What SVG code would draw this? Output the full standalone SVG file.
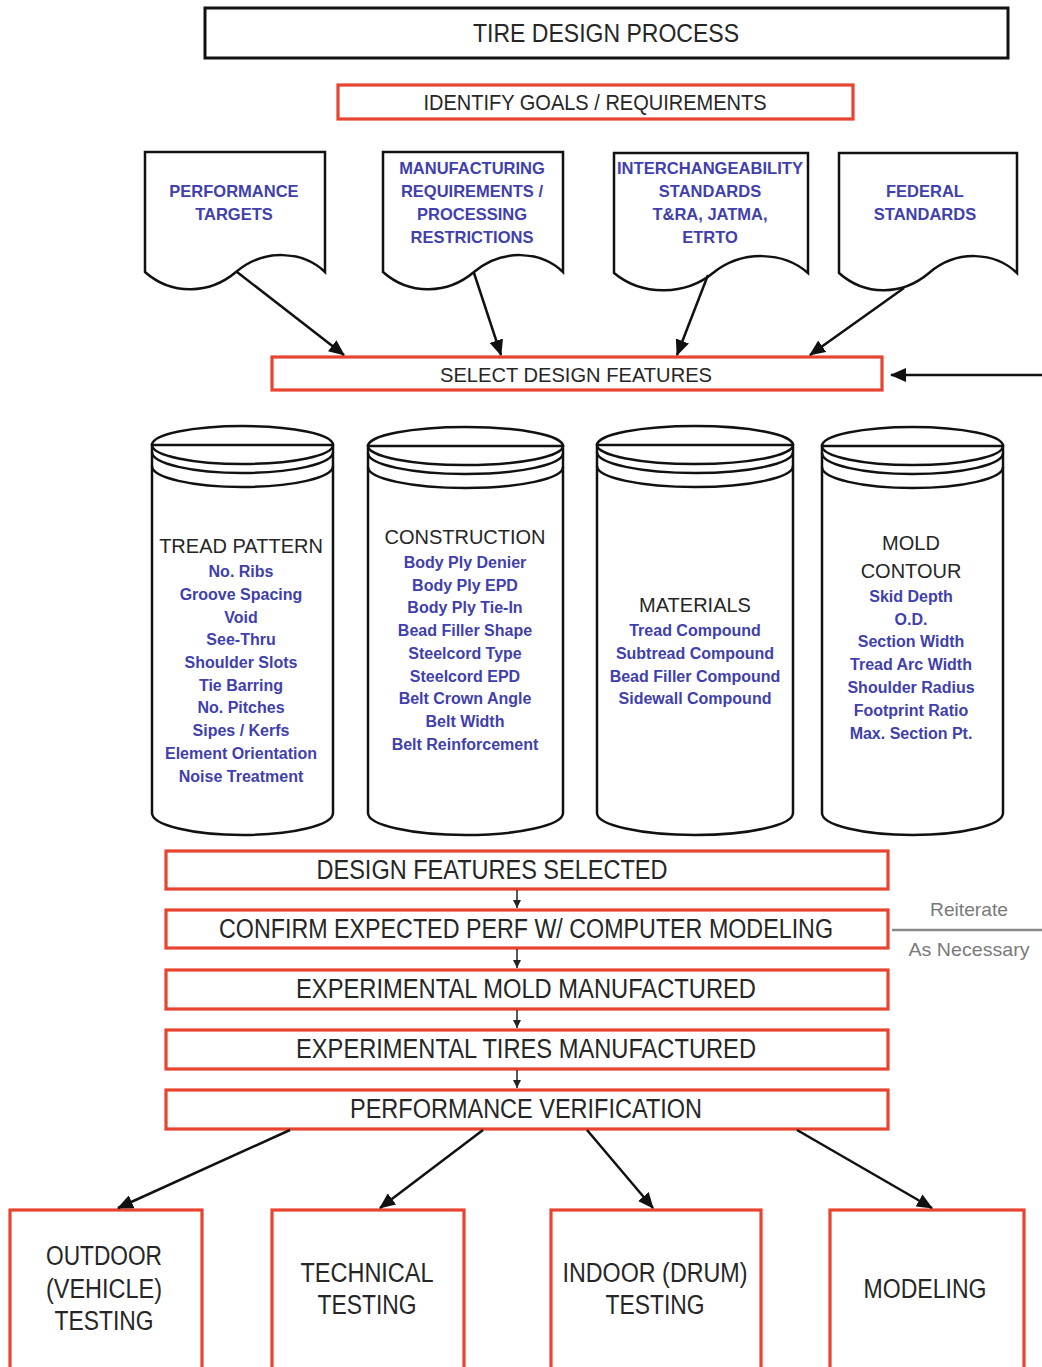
<svg xmlns="http://www.w3.org/2000/svg" width="1042" height="1367" viewBox="0 0 1042 1367">
  <defs>
    <marker id="arrow" viewBox="0 0 16 14" refX="15" refY="7" markerWidth="16" markerHeight="14" markerUnits="userSpaceOnUse" orient="auto">
      <path d="M0,0 L16,7 L0,14 Z" fill="#111"/>
    </marker>
    <marker id="arrowSmall" viewBox="0 0 8 8" refX="8" refY="4" markerWidth="8" markerHeight="8" markerUnits="userSpaceOnUse" orient="auto">
      <path d="M0,0 L8,4 L0,8 Z" fill="#222"/>
    </marker>
  </defs>
  <style>
    text { font-family: "Liberation Sans", Arial, sans-serif; text-anchor: middle; dominant-baseline: central; }
    .dark { fill: #262626; }
    .blue { fill: #3f3fae; font-weight: bold; }
    .doc { font-size: 16.5px; }
    .item { font-size: 16px; }
    .cylhead { font-size: 20px; }
    .step { font-size: 27px; }
    .note { fill: #7a7a7a; font-size: 19px; }
    .blackbox { fill: none; stroke: #111; stroke-width: 3; }
    .redbox { fill: #fff; stroke: #e8432f; stroke-width: 3.2; }
    .shape { fill: #fff; stroke: #111; stroke-width: 2.5; }
    .ring { fill: none; stroke: #111; stroke-width: 2.5; }
    .conn { fill: none; stroke: #111; stroke-width: 2.5; }
    .thin { fill: none; stroke: #222; stroke-width: 1.5; }
  </style>

  <rect x="0" y="0" width="1042" height="1367" fill="#fff"/>

  <!-- title -->
  <g id="title">
    <rect class="blackbox" x="205" y="8" width="803" height="50"/>
    <text class="dark" x="606" y="33" font-size="26" textLength="266" lengthAdjust="spacingAndGlyphs">TIRE DESIGN PROCESS</text>
  </g>

  <g id="identify">
    <rect class="redbox" x="338" y="85" width="515" height="34"/>
    <text class="dark" x="595" y="102" font-size="22" textLength="343" lengthAdjust="spacingAndGlyphs">IDENTIFY GOALS / REQUIREMENTS</text>
  </g>

  <!-- requirement documents -->
  <g id="doc-performance">
    <path class="shape" d="M145,152 H325 V272 C303,251 264,248 236,272 C210,294 172,296 145,272 Z"/>
    <text class="blue doc" x="234" y="191">PERFORMANCE</text>
    <text class="blue doc" x="234" y="214">TARGETS</text>
  </g>
  <g id="doc-manufacturing">
    <path class="shape" d="M383,152 H563 V272 C541,251 502,248 474,272 C448,294 410,296 383,272 Z"/>
    <text class="blue doc" x="472" y="168">MANUFACTURING</text>
    <text class="blue doc" x="472" y="191">REQUIREMENTS /</text>
    <text class="blue doc" x="472" y="214">PROCESSING</text>
    <text class="blue doc" x="472" y="237">RESTRICTIONS</text>
  </g>
  <g id="doc-interchangeability">
    <path class="shape" d="M614,153 H808 V273 C784,252 743,249 713,273 C686,295 643,297 614,273 Z"/>
    <text class="blue doc" x="710" y="168" textLength="186" lengthAdjust="spacingAndGlyphs">INTERCHANGEABILITY</text>
    <text class="blue doc" x="710" y="191">STANDARDS</text>
    <text class="blue doc" x="710" y="214">T&amp;RA, JATMA,</text>
    <text class="blue doc" x="710" y="237">ETRTO</text>
  </g>
  <g id="doc-federal">
    <path class="shape" d="M839,153 H1017 V273 C995,252 957,249 929,273 C903,295 866,297 839,273 Z"/>
    <text class="blue doc" x="925" y="191">FEDERAL</text>
    <text class="blue doc" x="925" y="214">STANDARDS</text>
  </g>

  <g id="select">
    <rect class="redbox" x="272" y="357" width="610" height="33"/>
    <text class="dark" x="576" y="374" font-size="21" textLength="272" lengthAdjust="spacingAndGlyphs">SELECT DESIGN FEATURES</text>
  </g>

  <!-- feature cylinders -->
  <g id="cyl-tread">
    <path class="shape" d="M152,445 V813 A90.5,22 0 0 0 333,813 V445 Z"/>
    <ellipse class="ring" cx="242.5" cy="445" rx="90.5" ry="19"/>
    <path class="ring" d="M152,452 A90.5,21 0 0 0 333,452"/>
    <path class="ring" d="M152,466 A90.5,21 0 0 0 333,466"/>
    <text class="dark cylhead" x="241" y="546">TREAD PATTERN</text>
    <text class="blue item" x="241" y="571">No. Ribs</text>
    <text class="blue item" x="241" y="594">Groove Spacing</text>
    <text class="blue item" x="241" y="617">Void</text>
    <text class="blue item" x="241" y="639">See-Thru</text>
    <text class="blue item" x="241" y="662">Shoulder Slots</text>
    <text class="blue item" x="241" y="685">Tie Barring</text>
    <text class="blue item" x="241" y="707">No. Pitches</text>
    <text class="blue item" x="241" y="730">Sipes / Kerfs</text>
    <text class="blue item" x="241" y="753">Element Orientation</text>
    <text class="blue item" x="241" y="776">Noise Treatment</text>
  </g>
  <g id="cyl-construction">
    <path class="shape" d="M368,446 V813 A97.5,22 0 0 0 563,813 V446 Z"/>
    <ellipse class="ring" cx="465.5" cy="446" rx="97.5" ry="19"/>
    <path class="ring" d="M368,453 A97.5,21 0 0 0 563,453"/>
    <path class="ring" d="M368,467 A97.5,21 0 0 0 563,467"/>
    <text class="dark cylhead" x="465" y="537">CONSTRUCTION</text>
    <text class="blue item" x="465" y="562">Body Ply Denier</text>
    <text class="blue item" x="465" y="585">Body Ply EPD</text>
    <text class="blue item" x="465" y="607">Body Ply Tie-In</text>
    <text class="blue item" x="465" y="630">Bead Filler Shape</text>
    <text class="blue item" x="465" y="653">Steelcord Type</text>
    <text class="blue item" x="465" y="676">Steelcord EPD</text>
    <text class="blue item" x="465" y="698">Belt Crown Angle</text>
    <text class="blue item" x="465" y="721">Belt Width</text>
    <text class="blue item" x="465" y="744">Belt Reinforcement</text>
  </g>
  <g id="cyl-materials">
    <path class="shape" d="M597,445 V813 A98,22 0 0 0 793,813 V445 Z"/>
    <ellipse class="ring" cx="695" cy="445" rx="98" ry="19"/>
    <path class="ring" d="M597,452 A98,21 0 0 0 793,452"/>
    <path class="ring" d="M597,466 A98,21 0 0 0 793,466"/>
    <text class="dark cylhead" x="695" y="605">MATERIALS</text>
    <text class="blue item" x="695" y="630">Tread Compound</text>
    <text class="blue item" x="695" y="653">Subtread Compound</text>
    <text class="blue item" x="695" y="676">Bead Filler Compound</text>
    <text class="blue item" x="695" y="698">Sidewall Compound</text>
  </g>
  <g id="cyl-mold">
    <path class="shape" d="M822,446 V813 A90.5,22 0 0 0 1003,813 V446 Z"/>
    <ellipse class="ring" cx="912.5" cy="446" rx="90.5" ry="19"/>
    <path class="ring" d="M822,453 A90.5,21 0 0 0 1003,453"/>
    <path class="ring" d="M822,467 A90.5,21 0 0 0 1003,467"/>
    <text class="dark cylhead" x="911" y="543">MOLD</text>
    <text class="dark cylhead" x="911" y="571">CONTOUR</text>
    <text class="blue item" x="911" y="596">Skid Depth</text>
    <text class="blue item" x="911" y="619">O.D.</text>
    <text class="blue item" x="911" y="641">Section Width</text>
    <text class="blue item" x="911" y="664">Tread Arc Width</text>
    <text class="blue item" x="911" y="687">Shoulder Radius</text>
    <text class="blue item" x="911" y="710">Footprint Ratio</text>
    <text class="blue item" x="911" y="733">Max. Section Pt.</text>
  </g>

  <!-- process steps -->
  <g id="step-selected">
    <rect class="redbox" x="166" y="851" width="722" height="38"/>
    <text class="dark step" x="492" y="870" textLength="351" lengthAdjust="spacingAndGlyphs">DESIGN FEATURES SELECTED</text>
  </g>
  <g id="step-confirm">
    <rect class="redbox" x="166" y="910" width="722" height="38"/>
    <text class="dark step" x="526" y="929" textLength="614" lengthAdjust="spacingAndGlyphs">CONFIRM EXPECTED PERF W/ COMPUTER MODELING</text>
  </g>
  <g id="step-mold">
    <rect class="redbox" x="166" y="970" width="722" height="39"/>
    <text class="dark step" x="526" y="989" textLength="460" lengthAdjust="spacingAndGlyphs">EXPERIMENTAL MOLD MANUFACTURED</text>
  </g>
  <g id="step-tires">
    <rect class="redbox" x="166" y="1030" width="722" height="39"/>
    <text class="dark step" x="526" y="1049" textLength="460" lengthAdjust="spacingAndGlyphs">EXPERIMENTAL TIRES MANUFACTURED</text>
  </g>
  <g id="step-verification">
    <rect class="redbox" x="166" y="1090" width="722" height="39"/>
    <text class="dark step" x="526" y="1109" textLength="352" lengthAdjust="spacingAndGlyphs">PERFORMANCE VERIFICATION</text>
  </g>

  <g id="reiterate">
    <line x1="892" y1="930" x2="1042" y2="930" stroke="#8a8a8a" stroke-width="2.5"/>
    <text class="note" x="969" y="909" textLength="78" lengthAdjust="spacingAndGlyphs">Reiterate</text>
    <text class="note" x="969" y="949" textLength="121" lengthAdjust="spacingAndGlyphs">As Necessary</text>
  </g>

  <!-- testing outcomes -->
  <g id="out-outdoor">
    <rect class="redbox" x="10" y="1210" width="192" height="180"/>
    <text class="dark step" x="104" y="1256" textLength="116" lengthAdjust="spacingAndGlyphs">OUTDOOR</text>
    <text class="dark step" x="104" y="1289" textLength="116" lengthAdjust="spacingAndGlyphs">(VEHICLE)</text>
    <text class="dark step" x="104" y="1321" textLength="99" lengthAdjust="spacingAndGlyphs">TESTING</text>
  </g>
  <g id="out-technical">
    <rect class="redbox" x="272" y="1210" width="192" height="180"/>
    <text class="dark step" x="367" y="1273" textLength="133" lengthAdjust="spacingAndGlyphs">TECHNICAL</text>
    <text class="dark step" x="367" y="1305" textLength="99" lengthAdjust="spacingAndGlyphs">TESTING</text>
  </g>
  <g id="out-indoor">
    <rect class="redbox" x="551" y="1210" width="210" height="180"/>
    <text class="dark step" x="655" y="1273" textLength="185" lengthAdjust="spacingAndGlyphs">INDOOR (DRUM)</text>
    <text class="dark step" x="655" y="1305" textLength="99" lengthAdjust="spacingAndGlyphs">TESTING</text>
  </g>
  <g id="out-modeling">
    <rect class="redbox" x="830" y="1210" width="194" height="180"/>
    <text class="dark step" x="925" y="1289" textLength="123" lengthAdjust="spacingAndGlyphs">MODELING</text>
  </g>

  <!-- connectors -->
  <g id="connectors">
    <line class="conn" x1="237" y1="272" x2="344" y2="355" marker-end="url(#arrow)"/>
    <line class="conn" x1="474" y1="273" x2="501" y2="355" marker-end="url(#arrow)"/>
    <line class="conn" x1="708" y1="275" x2="677" y2="355" marker-end="url(#arrow)"/>
    <line class="conn" x1="904" y1="288" x2="810" y2="355" marker-end="url(#arrow)"/>
    <line class="conn" x1="1042" y1="375" x2="891" y2="375" marker-end="url(#arrow)"/>

    <line class="thin" x1="517" y1="890" x2="517" y2="908" marker-end="url(#arrowSmall)"/>
    <line class="thin" x1="517" y1="949" x2="517" y2="968" marker-end="url(#arrowSmall)"/>
    <line class="thin" x1="517" y1="1010" x2="517" y2="1028" marker-end="url(#arrowSmall)"/>
    <line class="thin" x1="517" y1="1070" x2="517" y2="1088" marker-end="url(#arrowSmall)"/>

    <line class="conn" x1="290" y1="1130" x2="118" y2="1208" marker-end="url(#arrow)"/>
    <line class="conn" x1="483" y1="1130" x2="380" y2="1208" marker-end="url(#arrow)"/>
    <line class="conn" x1="587" y1="1130" x2="653" y2="1208" marker-end="url(#arrow)"/>
    <line class="conn" x1="797" y1="1130" x2="932" y2="1208" marker-end="url(#arrow)"/>
  </g>
</svg>
